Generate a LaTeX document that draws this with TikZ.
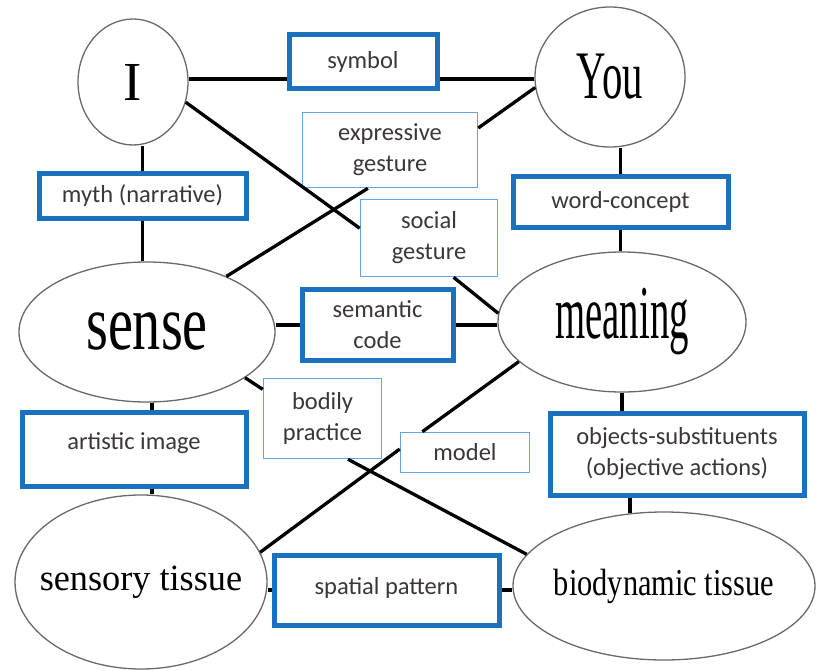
\documentclass[tikz,border=0pt]{standalone}
\usepackage{fontspec}
\setmainfont{Liberation Serif}
\newfontfamily\boxfont{Carlito}
\usepackage{graphicx}
\usepackage{xcolor}
\usepackage{tikz}
\usetikzlibrary{shapes.geometric}
\definecolor{boxblue}{RGB}{26,114,190}
\definecolor{lineblue}{RGB}{100,166,222}
\definecolor{boxtext}{RGB}{60,55,54}
\definecolor{rimgray}{RGB}{105,105,105}
\newcommand{\squeeze}[3]{\makebox[0pt]{\fontsize{#2}{#2}\selectfont\scalebox{#1}[1]{#3}}}

\begin{document}
\begin{tikzpicture}[
  x=1pt,y=-1pt,
  e/.style={ellipse,draw=rimgray,line width=1.3pt,inner sep=0pt,fill=white},
  bx/.style={draw=boxblue,line width=5pt,fill=white,align=center,inner sep=0pt,text=boxtext,font=\boxfont\fontsize{24.5}{31}\selectfont},
  tb/.style={bx,draw=lineblue,line width=1.6pt},
  ln/.style={line width=3.3pt}
]
\useasboundingbox (0,0) rectangle (816,671);
% the six ellipses
\node[e,minimum width=110pt,minimum height=126pt] (I) at (133,82) {\squeeze{1}{55}{I}};
\node[e,minimum width=150pt,minimum height=140pt] (you) at (610,77) {\squeeze{0.6}{68}{You}};
\node[e,minimum width=256pt,minimum height=140pt] (sense) at (147,332) {\squeeze{0.72}{78}{sense}};
\node[e,minimum width=248pt,minimum height=140pt] (mean) at (622,322) {\squeeze{0.51}{76}{meaning}};
\node[e,minimum width=252pt,minimum height=174pt] (sens) at (141,582) {\squeeze{0.98}{37}{sensory tissue}};
\node[e,minimum width=302pt,minimum height=148pt] (bio) at (664,586) {\squeeze{0.8}{38}{\raisebox{3pt}{biodynamic tissue}}};
% thick boxes
\node[bx,minimum width=148pt,minimum height=54pt] (sym) at (363,61.5) {symbol};
\node[bx,minimum width=207pt,minimum height=44pt] (myth) at (142.5,196) {myth (narrative)};
\node[bx,minimum width=215pt,minimum height=50pt] (word) at (620.5,202) {word-concept};
\node[bx,minimum width=151pt,minimum height=71pt] (sem) at (377.5,325) {semantic\\code};
\node[bx,minimum width=224pt,minimum height=74pt] (art) at (134,449) {\raisebox{15pt}{artistic image}};
\node[bx,minimum width=254pt,minimum height=82pt] (obj) at (677,454) {objects-substituents\\(objective actions)};
\node[bx,minimum width=225pt,minimum height=70pt] (spat) at (386.5,590) {\raisebox{9pt}{spatial pattern}};
% thin boxes
\node[tb,minimum width=175pt,minimum height=75pt] (expr) at (390,150) {expressive\\gesture};
\node[tb,minimum width=137pt,minimum height=77pt] (soc) at (429,238) {social\\gesture};
\node[tb,minimum width=118pt,minimum height=80pt] (body) at (322.5,418.5) {bodily\\practice};
\node[tb,minimum width=129pt,minimum height=40pt] (model) at (465,452.5) {model};
% connectors
\draw[ln] (I.east |- 0,79) -- (sym.west |- 0,79);
\draw[ln] (sym.east |- 0,79) -- (you.west |- 0,79);
\draw[ln] (you.188) -- (expr.14);
\draw[ln] (I.-21) -- (soc.172);
\draw[ln] (soc.-58) -- (mean.176);
\draw[ln] (expr.240) -- (sense.35);
\draw[ln] (myth.north) -- (myth.north |- I.south);
\draw[ln] (myth.south) -- (myth.south |- sense.north);
\draw[ln] (word.north) -- (word.north |- you.south);
\draw[ln] (word.south) -- (word.south |- mean.north);
\draw[ln] (sem.west) -- (sem.west -| sense.east);
\draw[ln] (sem.east) -- (sem.east -| mean.west);
\draw[ln] (sense.-25) -- (body.154);
\draw[ln] (sense.-86) -- (sense.-86 |- art.north);
\draw[ln] (sense.-86 |- art.south) -- (sense.-86 |- sens.north);
\draw[ln] (body.-58) -- (bio.167);
\draw[ln] (sens.14) -- (model.177);
\draw[ln] (model.154) -- (mean.-159);
\draw[ln] (spat.west) -- (spat.west -| sens.east);
\draw[ln] (spat.east) -- (spat.east -| bio.west);
\draw[ln] (mean.south) -- (mean.south |- obj.north);
\draw[ln] (bio.115) -- (bio.115 |- obj.south);
\end{tikzpicture}
\end{document}
